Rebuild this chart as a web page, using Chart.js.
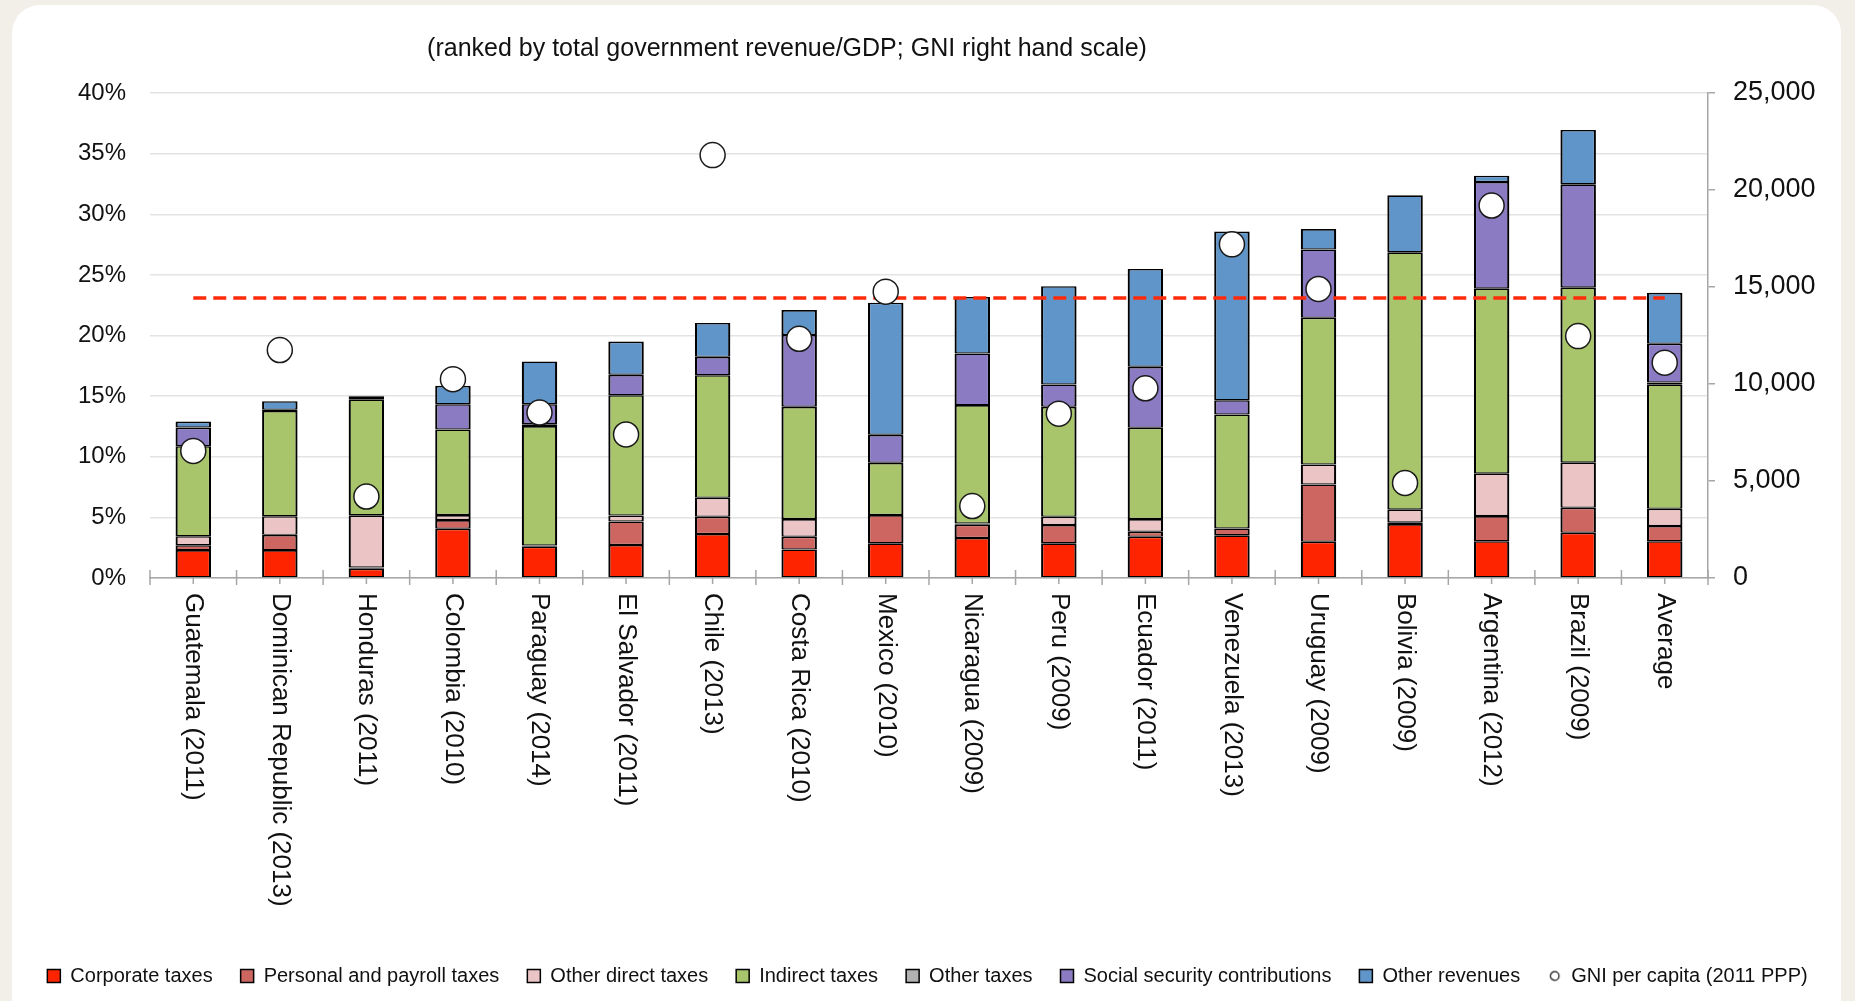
<!DOCTYPE html>
<html>
<head>
<meta charset="utf-8">
<title>Government revenue by source</title>
<script src="https://cdn.jsdelivr.net/npm/chart.js@4.4.1/dist/chart.umd.min.js"></script>
<style>
  html, body { margin: 0; padding: 0; background: #f2efe9; overflow: hidden; }
  #panel { position: absolute; left: 12px; top: 5px; width: 1829px; height: 1030px; background: #fff; border-radius: 28px; }
  #wrap { position: absolute; left: 0; top: 0; width: 1855px; height: 1001px; }
</style>
</head>
<body>
<div id="panel"></div>
<div id="wrap"><canvas id="revenueChart"></canvas></div>
<script>
// ---- data (% of GDP, GNI in 2011 PPP) ----
const countries = [
    'Guatemala (2011)', 'Dominican Republic (2013)', 'Honduras (2011)', 'Colombia (2010)',
    'Paraguay (2014)', 'El Salvador (2011)', 'Chile (2013)', 'Costa Rica (2010)',
    'Mexico (2010)', 'Nicaragua (2009)', 'Peru (2009)', 'Ecuador (2011)',
    'Venezuela (2013)', 'Uruguay (2009)', 'Bolivia (2009)', 'Argentina (2012)',
    'Brazil (2009)', 'Average'
];

const corporateTaxes   = [2.30, 2.30, 0.77, 4.07, 2.58, 2.72, 3.63, 2.36, 2.86, 3.30, 2.86, 3.41, 3.52, 2.99, 4.45, 3.03, 3.74, 3.03];
const personalTaxes    = [0.41, 1.26, 0.10, 0.71, 0.10, 1.95, 1.42, 1.05, 2.33, 1.10, 1.51, 0.41, 0.57, 4.73, 0.14, 2.08, 2.06, 1.26];
const otherDirectTaxes = [0.74, 1.54, 4.30, 0.41, 0.00, 0.49, 1.57, 1.45, 0.00, 0.10, 0.68, 1.04, 0.00, 1.65, 1.07, 3.52, 3.74, 1.43];
const indirectTaxes    = [7.42, 8.68, 9.57, 7.06, 9.85, 9.92, 10.11, 9.26, 4.31, 9.76, 9.07, 7.53, 9.40, 12.10, 21.20, 15.26, 14.43, 10.25];
const otherTaxes       = [0.00, 0.10, 0.10, 0.00, 0.15, 0.00, 0.00, 0.00, 0.00, 0.00, 0.00, 0.00, 0.00, 0.00, 0.00, 0.00, 0.00, 0.15];
const socialSecurity   = [1.54, 0.00, 0.10, 2.09, 1.66, 1.68, 1.51, 5.93, 2.31, 4.26, 1.84, 5.03, 1.18, 5.63, 0.00, 8.77, 8.50, 3.20];
const otherRevenues    = [0.49, 0.70, 0.10, 1.51, 3.52, 2.74, 2.79, 2.05, 10.90, 4.66, 8.10, 8.07, 13.90, 1.68, 4.70, 0.52, 4.48, 4.20];

const gniPerCapita = [6550, 11750, 4200, 10250, 8530, 7400, 21800, 12330, 14760, 3710, 8470, 9780, 17200, 14900, 4900, 19200, 12470, 11100];

// red dashed reference line (left scale)
const referenceLine = [23.1, 23.1, 23.1, 23.1, 23.1, 23.1, 23.1, 23.1, 23.1, 23.1, 23.1, 23.1, 23.1, 23.1, 23.1, 23.1, 23.1, 23.1];

const leftTicks = [0, 5, 10, 15, 20, 25, 30, 35, 40];
const rightTicks = [0, 5000, 10000, 15000, 20000, 25000];

const TITLE = '(ranked by total government revenue/GDP; GNI right hand scale)';
const FONT = "'Liberation Sans', Arial, sans-serif";

Chart.defaults.font.family = FONT;
Chart.defaults.color = '#111';

// small circle icon for the GNI legend entry
const gniIcon = document.createElement('canvas');
gniIcon.width = 13;
gniIcon.height = 13;
(function () {
    const c = gniIcon.getContext('2d');
    c.beginPath();
    c.arc(6.5, 6.5, 4.3, 0, Math.PI * 2);
    c.fillStyle = '#fff';
    c.fill();
    c.lineWidth = 1.2;
    c.strokeStyle = '#111';
    c.stroke();
})();

function barSet(label, data, color) {
    return {
        type: 'bar',
        label: label,
        data: data,
        backgroundColor: color,
        borderColor: '#000',
        borderWidth: { top: 1.6, bottom: 1.2, left: 2.2, right: 2.2 },
        borderSkipped: false,
        stack: 'revenue',
        yAxisID: 'y',
        order: 3,
        barPercentage: 0.41,
        categoryPercentage: 1
    };
}

// title, category labels and x tick marks
const decorPlugin = {
    id: 'decor',
    afterDraw(chart) {
        const ctx = chart.ctx;
        const xScale = chart.scales.x;
        const base = chart.chartArea.bottom;
        const step = xScale.getPixelForValue(1) - xScale.getPixelForValue(0);
        ctx.save();

        ctx.strokeStyle = '#a6a6a6';
        ctx.lineWidth = 1.5;
        ctx.beginPath();
        for (let i = 0; i <= countries.length; i++) {
            const bx = xScale.getPixelForValue(0) - step / 2 + i * step;
            ctx.moveTo(bx, base - 8);
            ctx.lineTo(bx, base + 7);
        }
        countries.forEach((c, i) => {
            const cx = xScale.getPixelForValue(i);
            ctx.moveTo(cx, base);
            ctx.lineTo(cx, base + 6);
        });
        ctx.stroke();

        ctx.fillStyle = '#111';
        ctx.font = '26px ' + FONT;
        ctx.textAlign = 'left';
        ctx.textBaseline = 'middle';
        countries.forEach((c, i) => {
            ctx.save();
            ctx.translate(xScale.getPixelForValue(i), base + 15);
            ctx.rotate(Math.PI / 2);
            ctx.fillText(c, 0, 0);
            ctx.restore();
        });

        ctx.font = '25px ' + FONT;
        ctx.textAlign = 'center';
        ctx.fillText(TITLE, 787, 49);
        ctx.restore();
    }
};

const ctx = document.getElementById('revenueChart').getContext('2d');
new Chart(ctx, {
    data: {
        labels: countries,
        datasets: [
            barSet('Corporate taxes', corporateTaxes, '#ff2400'),
            barSet('Personal and payroll taxes', personalTaxes, '#cd6660'),
            barSet('Other direct taxes', otherDirectTaxes, '#ebc5c5'),
            barSet('Indirect taxes', indirectTaxes, '#a9c56b'),
            barSet('Other taxes', otherTaxes, '#b2b2b2'),
            barSet('Social security contributions', socialSecurity, '#8b7bc2'),
            barSet('Other revenues', otherRevenues, '#5f95c9'),
            {
                type: 'line',
                label: 'GNI per capita (2011 PPP)',
                data: gniPerCapita,
                yAxisID: 'y1',
                showLine: false,
                pointRadius: 12.5,
                pointBackgroundColor: '#fff',
                pointBorderColor: '#1a1a1a',
                pointBorderWidth: 1.5,
                order: 1
            },
            {
                type: 'line',
                label: 'Reference',
                inLegend: false,
                data: referenceLine,
                yAxisID: 'y',
                stack: 'reference',
                borderColor: '#ff2a0a',
                borderWidth: 3.5,
                borderDash: [13, 7],
                pointRadius: 0,
                fill: false,
                order: 2
            }
        ]
    },
    options: {
        responsive: true,
        maintainAspectRatio: false,
        animation: false,
        events: [],
        layout: { padding: { top: 93, left: 0, right: 0, bottom: 5 } },
        plugins: {
            title: { display: false },
            tooltip: { enabled: false },
            legend: {
                position: 'bottom',
                labels: {
                    usePointStyle: true,
                    boxWidth: 13,
                    boxHeight: 13,
                    padding: 28,
                    color: '#111',
                    font: { size: 20 },
                    generateLabels(chart) {
                        return chart.data.datasets
                            .map((ds, i) => ({ ds, i }))
                            .filter(o => o.ds.inLegend !== false)
                            .map(({ ds, i }) => ({
                                text: ds.label,
                                fillStyle: ds.type === 'bar' ? ds.backgroundColor : '#fff',
                                strokeStyle: '#000',
                                lineWidth: 1.5,
                                pointStyle: ds.type === 'bar' ? 'rect' : gniIcon,
                                fontColor: '#111',
                                datasetIndex: i,
                                hidden: false
                            }));
                    }
                }
            }
        },
        scales: {
            x: {
                stacked: true,
                grid: { display: false },
                border: { display: true, color: '#a6a6a6', width: 1.5 },
                ticks: { display: false },
                afterFit(scale) { scale.height = 360; }
            },
            y: {
                stacked: true,
                position: 'left',
                min: 0,
                max: 40,
                afterBuildTicks(scale) { scale.ticks = leftTicks.map(v => ({ value: v })); },
                ticks: {
                    padding: 24,
                    color: '#111',
                    font: { size: 24 },
                    callback: v => v + '%'
                },
                grid: { color: '#e3e3e3', lineWidth: 1.5, drawTicks: false },
                border: { display: false },
                afterFit(scale) { scale.width = 150; }
            },
            y1: {
                position: 'right',
                min: 0,
                max: 25000,
                afterBuildTicks(scale) { scale.ticks = rightTicks.map(v => ({ value: v })); },
                ticks: {
                    padding: 18,
                    color: '#111',
                    font: { size: 27 },
                    callback: v => v.toLocaleString('en-US')
                },
                grid: { drawOnChartArea: false, color: '#a6a6a6', lineWidth: 1.5, tickLength: 7 },
                border: { display: true, color: '#a6a6a6', width: 1.5 },
                afterFit(scale) { scale.width = 147; }
            }
        }
    },
    plugins: [decorPlugin]
});
</script>
</body>
</html>
